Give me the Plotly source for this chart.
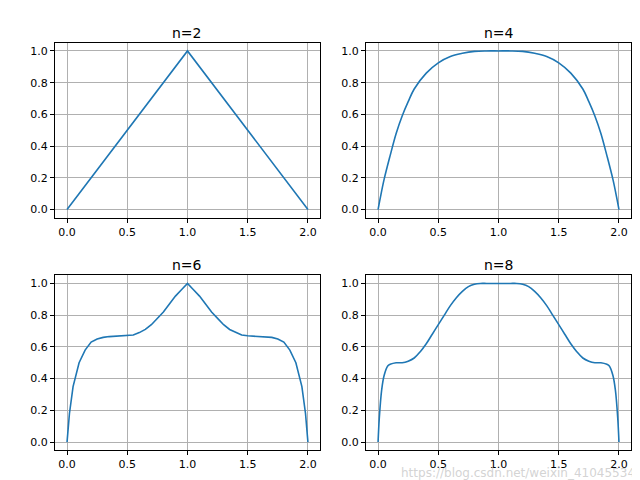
import plotly.graph_objects as go
from plotly.subplots import make_subplots

titles = ["n=2", "n=4", "n=6", "n=8"]
x2 = [0, 1, 2]; y2 = [0, 1, 0]
xh4 = [0,0.02,0.05,0.1,0.15,0.2,0.25,0.3,0.4,0.5,0.6,0.7,0.8,0.9,1.0]
yh4 = [0,0.08,0.19,0.34,0.48,0.59,0.68,0.76,0.86,0.925,0.965,0.985,0.997,1.0,1.0]
xh6 = [0,0.02,0.05,0.1,0.15,0.2,0.25,0.3,0.35,0.4,0.45,0.5,0.55,0.6,0.65,0.7,0.75,0.8,0.85,0.9,0.95,1.0]
yh6 = [0,0.18,0.35,0.5,0.58,0.63,0.65,0.66,0.665,0.667,0.668,0.67,0.675,0.69,0.71,0.74,0.78,0.82,0.87,0.92,0.96,1.0]
xh8 = [0,0.01,0.03,0.05,0.08,0.1,0.15,0.2,0.25,0.3,0.35,0.4,0.45,0.5,0.55,0.6,0.65,0.7,0.75,0.8,0.85,0.9,0.95,1.0]
yh8 = [0,0.15,0.33,0.42,0.48,0.49,0.5,0.5,0.51,0.53,0.57,0.62,0.68,0.74,0.8,0.86,0.91,0.95,0.98,0.995,1.0,1.0,1.0,1.0]

def mirror(xh, yh):
    xs = xh + [2 - v for v in reversed(xh[:-1])]
    ys = yh + list(reversed(yh[:-1]))
    return xs, ys

data = [(x2, y2, "linear"), (*mirror(xh4, yh4), "spline"), (*mirror(xh6, yh6), "linear"), (*mirror(xh8, yh8), "spline")]

fig = make_subplots(rows=2, cols=2, subplot_titles=titles, horizontal_spacing=0.08, vertical_spacing=0.1425)
for i, (xs, ys, sh) in enumerate(data):
    r, c = i // 2 + 1, i % 2 + 1
    fig.add_trace(go.Scatter(x=xs, y=ys, mode="lines", line=dict(color="#1f77b4", width=1.6, shape=sh)), row=r, col=c)
    fig.update_xaxes(range=[-0.1, 2.1], tickvals=[0, 0.5, 1, 1.5, 2], ticktext=["0.0", "0.5", "1.0", "1.5", "2.0"], row=r, col=c)
    fig.update_yaxes(range=[-0.05, 1.05], tickvals=[0, 0.2, 0.4, 0.6, 0.8, 1.0], tickformat=".1f", row=r, col=c)

ax = dict(showline=True, linecolor="black", linewidth=1, mirror=True, showgrid=True, gridcolor="#b0b0b0",
          gridwidth=0.8, zeroline=False, ticks="outside", ticklen=4, tickcolor="black",
          tickfont=dict(size=11, color="black"), automargin=False)
fig.update_xaxes(**ax)
fig.update_yaxes(**ax)
for a in fig.layout.annotations:
    a.font = dict(size=14, color="black")
fig.add_annotation(text="https://blog.csdn.net/weixin_41045534", xref="paper", yref="paper", x=1.01, y=-0.035,
                   xanchor="right", yanchor="top", showarrow=False, font=dict(size=12, color="rgba(200,200,200,0.8)"))
fig.update_layout(width=640, height=480, margin=dict(l=47, r=17, t=35, b=38), showlegend=False,
                  plot_bgcolor="white", paper_bgcolor="white", font=dict(family="DejaVu Sans"))
fig.write_html("out.html")
